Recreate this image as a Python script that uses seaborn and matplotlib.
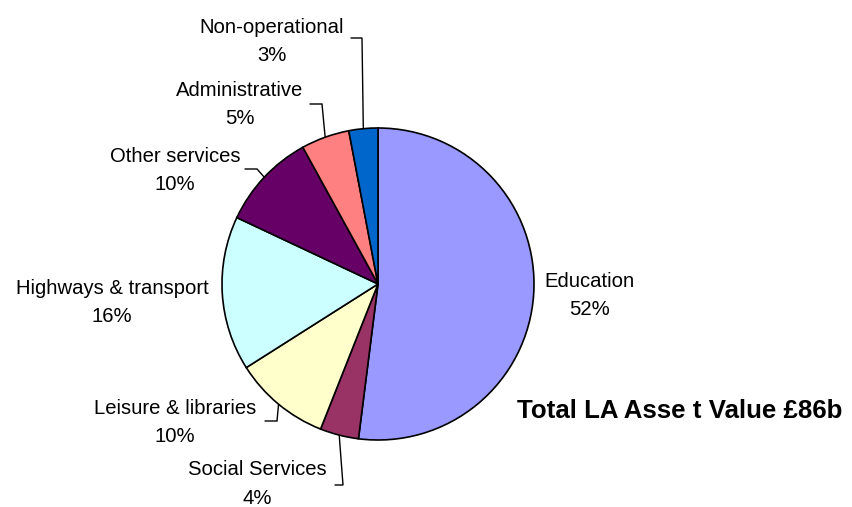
import numpy as np
import matplotlib
matplotlib.use("Agg")
import matplotlib.pyplot as plt
import seaborn as sns

categories = ["Education", "Social Services", "Leisure & libraries", "Highways & transport",
              "Other services", "Administrative", "Non-operational"]
values = [52, 4, 10, 16, 10, 5, 3]
colors = ["#9999FF", "#993366", "#FFFFCC", "#CCFFFF", "#660066", "#FF8080", "#0066CC"]
title_text = "Total LA Asse t Value £86b"

sns.set_theme(style="white")
plt.rcParams["font.family"] = ["Liberation Sans", "DejaVu Sans"]

W, H = 852, 507
fig = plt.figure(figsize=(W / 100, H / 100), dpi=100)
ax = fig.add_axes([0, 0, 1, 1])

cx, cy, R = 378, H - 284, 156
wedges, _ = ax.pie(values, colors=sns.color_palette(colors), startangle=90, counterclock=False,
                   radius=R, center=(cx, cy),
                   wedgeprops=dict(edgecolor="black", linewidth=1.2))
ax.set_xlim(0, W)
ax.set_ylim(0, H)
ax.set_aspect("equal")
ax.axis("off")

# label layout in pixel coords (x center, y center), leader stub (x_start, x_end, y) or None
layout = {
    "Education": ((590, 295.5), None),
    "Social Services": ((257, 484), (335, 343, 485)),
    "Leisure & libraries": ((175, 422.5), (265, 277, 421)),
    "Highways & transport": ((112, 302.5), None),
    "Other services": ((175, 170.5), (245, 257, 169)),
    "Administrative": ((240, 104.5), (310, 322, 104)),
    "Non-operational": ((272, 41.5), (351, 362, 38)),
}

for w, cat, v in zip(wedges, categories, values):
    (lx, ly), stub = layout[cat]
    ax.text(lx, H - ly, f"{cat}\n{v}%", ha="center", va="center", fontsize=14.6,
            linespacing=1.63, color="black")
    if stub is not None:
        ang = np.deg2rad((w.theta1 + w.theta2) / 2)
        ex, ey = cx + R * np.cos(ang), cy + R * np.sin(ang)
        x0, x1, sy = stub
        ax.plot([x0, x1, ex], [H - sy, H - sy, ey], color="black", linewidth=1.0,
                solid_joinstyle="miter", zorder=0.5)

ax.text(517, H - 411, title_text, ha="left", va="center", fontsize=18.6, fontweight="bold",
        color="black")

fig.savefig("out.png", dpi=100, facecolor="white")
